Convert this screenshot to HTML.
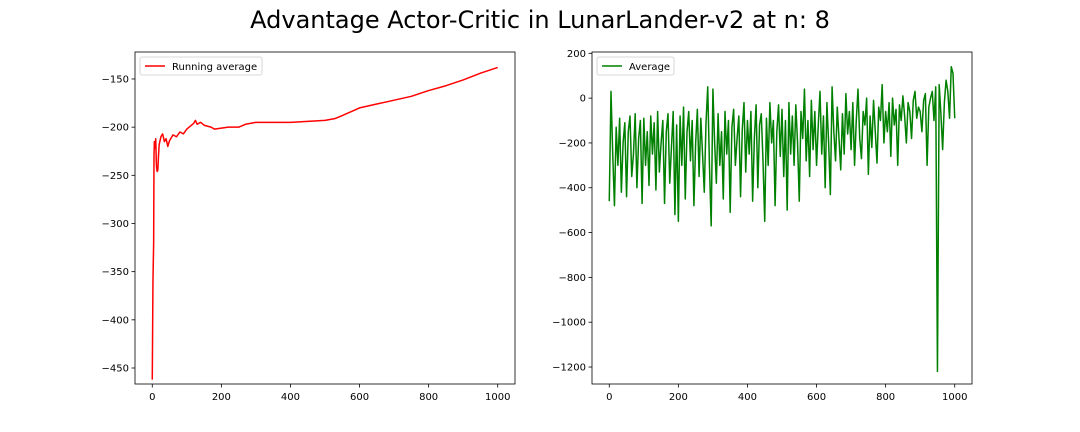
<!DOCTYPE html>
<html><head><meta charset="utf-8"><style>
body{margin:0;background:#fff;}
svg{display:block;font-family:"DejaVu Sans","Liberation Sans",sans-serif;}
</style></head><body>
<svg id="fig" width="1080" height="432">
<rect width="1080" height="432" fill="#fff"/>
<text x="540" y="28" text-anchor="middle" font-size="24" fill="#000">Advantage Actor-Critic in LunarLander-v2 at n: 8</text>
</svg>
<script>
const raX=[0,2,4,5,6,8,10,12,14,16,18,20,25,30,35,40,45,50,60,70,80,90,100,110,120,125,130,140,150,170,180,200,220,250,270,300,350,400,450,500,530,550,600,650,700,750,800,850,900,950,1000];
const raY=[-462,-360,-320,-230,-215,-222,-212,-240,-246,-245,-230,-218,-210,-207,-215,-212,-220,-214,-208,-210,-205,-207,-202,-199,-196,-193,-197,-195,-198,-200,-202,-201,-200,-200,-197,-195,-195,-195,-194,-193,-191,-188,-180,-176,-172,-168,-162,-157,-151,-144,-138];
const avgY=[-460,30,-250,-480,-130,-300,-90,-420,-200,-110,-440,-150,-80,-350,-250,-70,-400,-180,-100,-470,
-90,-300,-150,-390,-80,-250,-110,-410,-60,-330,-200,-100,-470,-150,-70,-380,-220,-60,-520,-120,
-550,-80,-300,-40,-450,-150,-60,-280,-100,-480,-200,-50,-350,-90,-250,-420,-110,50,-300,-570,
40,-200,-380,-70,-300,-150,-450,-60,-250,-100,-510,-130,-50,-300,-180,-80,-440,-140,-20,-330,
-100,-250,-60,-460,-180,-30,-400,-120,-70,-280,-550,-90,-300,-20,-200,-100,-480,-150,-30,-260,
-50,-350,-100,-500,-20,-250,-80,-300,-30,-200,-460,-60,-180,40,-280,-100,-350,-10,-230,-60,
-300,-120,30,-250,-80,-400,-20,-200,-430,50,-150,-280,-40,-180,-320,-70,-250,20,-160,-60,
-230,-20,-300,-100,40,-180,-270,-60,-120,0,-340,-80,-220,-10,-150,-290,-40,-100,60,-200,
-60,-150,-20,-260,0,-120,-50,-300,-30,-100,10,-80,-200,-20,-60,-180,-10,30,-90,-40,
-60,-150,-10,20,-300,-40,0,30,-100,50,-1220,60,-70,-230,-20,80,30,-90,140,110,-90];
const avgStep=5;
const leftXTicks=[0,200,400,600,800,1000];
const leftYTicks=[-450,-400,-350,-300,-250,-200,-150];
const rightXTicks=[0,200,400,600,800,1000];
const rightYTicks=[-1200,-1000,-800,-600,-400,-200,0,200];

const NS="http://www.w3.org/2000/svg";
const svg=document.getElementById('fig');
function mk(tag,attrs,parent){const e=document.createElementNS(NS,tag);for(const k in attrs)e.setAttribute(k,attrs[k]);(parent||svg).appendChild(e);return e;}
function fmt(v){return v<0?'\u2212'+Math.abs(v):String(v);}

function axes(name,box,xd,yd,xt,yt,xs,ys,color,label,legW){
  const g=mk('g',{});
  
  
  const sx=v=>box.x0+(v-xd[0])/(xd[1]-xd[0])*(box.x1-box.x0);
  const sy=v=>box.y1-(v-yd[0])/(yd[1]-yd[0])*(box.y1-box.y0);
  let d='';
  for(let i=0;i<xs.length;i++)d+=(i?'L':'M')+sx(xs[i]).toFixed(2)+' '+sy(ys[i]).toFixed(2);
  const ln=mk('path',{d:d,fill:'none',stroke:color,'stroke-width':1.5,'stroke-linejoin':'round'},g);
  
  
  const fr=mk('rect',{x:box.x0,y:box.y0,width:box.x1-box.x0,height:box.y1-box.y0,fill:'none',stroke:'#000','stroke-width':0.8},g);
  
  
  xt.forEach(v=>{const x=sx(v);mk('line',{x1:x,x2:x,y1:box.y1,y2:box.y1+3.5,stroke:'#000','stroke-width':0.8},g);
    const t=mk('text',{x:x,y:box.y1+16,'text-anchor':'middle','font-size':10,fill:'#000'},g);t.textContent=fmt(v);
    
    });
  yt.forEach(v=>{const y=sy(v);mk('line',{x1:box.x0-3.5,x2:box.x0,y1:y,y2:y,stroke:'#000','stroke-width':0.8},g);
    const t=mk('text',{x:box.x0-6,y:y+3.5,'text-anchor':'end','font-size':10,fill:'#000'},g);t.textContent=fmt(v);
    
    });
  const lg=mk('g',{},g);
  
  
  mk('rect',{x:box.x0+5,y:box.y0+5,width:legW,height:18,rx:2,fill:'#fff',stroke:'#ccc','stroke-width':0.8},lg);
  mk('line',{x1:box.x0+10,x2:box.x0+30,y1:box.y0+14,y2:box.y0+14,stroke:color,'stroke-width':1.5},lg);
  const lt=mk('text',{x:box.x0+37,y:box.y0+18,'font-size':10,fill:'#000'},lg);lt.textContent=label;
}
axes('left-chart',{x0:135,x1:515,y0:52,y1:384},[-50,1050],[-466.6,-122],leftXTicks,leftYTicks,raX,raY,'#ff0000','Running average',122);
const avgX=avgY.map((_,i)=>i*avgStep);
axes('right-chart',{x0:592,x1:972,y0:52,y1:384},[-50,1050],[-1275.8,205.8],rightXTicks,rightYTicks,avgX,avgY,'#008000','Average',77);
</script>
</body></html>
